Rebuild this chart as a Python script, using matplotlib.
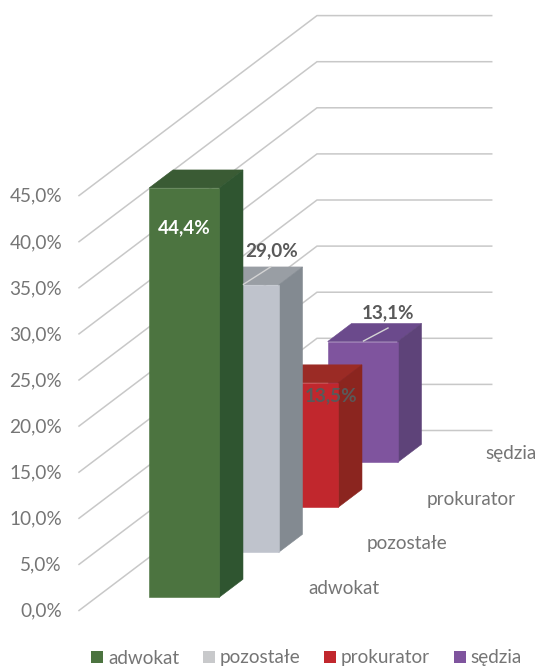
import matplotlib
matplotlib.use("Agg")
import matplotlib.pyplot as plt
from matplotlib.patches import Polygon, Patch

plt.rcParams['font.family'] = ['Lato', 'DejaVu Sans']

categories = ['adwokat', 'pozostałe', 'prokurator', 'sędzia']
values = [44.4, 29.0, 13.5, 13.1]
value_labels = ['44,4%', '29,0%', '13,5%', '13,1%']
ticks = [0, 5, 10, 15, 20, 25, 30, 35, 40, 45]
tick_labels = ['0,0%', '5,0%', '10,0%', '15,0%', '20,0%', '25,0%', '30,0%', '35,0%', '40,0%', '45,0%']
front_colors = ['#4C7440', '#BFC3CC', '#C1272D', '#7F549E']
top_colors = ['#3A5B34', '#999EA4', '#9B2B25', '#6B4A8C']
side_colors = ['#2F5530', '#838A91', '#8B251F', '#5E4379']
legend_colors = ['#4C7440', '#C8C9CB', '#C1272D', '#7F549E']

W, H = 539, 667
ZERO_PX = 610.5        # pixel row of value 0 on the front of the floor
PX_PER_UNIT = 9.22     # pixels per percentage point
FLOOR_LEFT = 79
FLOOR_WIDTH = 174.7
DEPTH_DX = 59.5        # oblique shift per category along the depth axis
DEPTH_DY = 45.0 / PX_PER_UNIT
BAR_WIDTH = 70
BAR_DEPTH = 0.4

fig = plt.figure(figsize=(W / 100, H / 100), dpi=100)
ax = fig.add_axes([0, 0, 1, 1])
ax.set_xlim(0, W)
ax.set_ylim((ZERO_PX - H) / PX_PER_UNIT, ZERO_PX / PX_PER_UNIT)
ax.axis('off')


def proj(x, depth, value):
    return x + depth * DEPTH_DX, value + depth * DEPTH_DY


n = len(categories)
GRID = '#C8C8C8'
for t, lab in zip(ticks, tick_labels):
    pts = [proj(FLOOR_LEFT, 0, t), proj(FLOOR_LEFT, n, t), proj(FLOOR_LEFT + FLOOR_WIDTH, n, t)]
    ax.plot([p[0] for p in pts], [p[1] for p in pts], color=GRID, lw=1.1, zorder=1,
            solid_joinstyle='miter')
    ax.text(62, t - 0.08, lab, ha='right', va='center', fontsize=13.7, color='#757575')

x0 = FLOOR_LEFT + (FLOOR_WIDTH - BAR_WIDTH) / 2 + 0.4
for i in range(n - 1, -1, -1):
    v = values[i]
    d0 = i + 0.293
    d1 = d0 + BAR_DEPTH
    z = 10 + (n - i)
    x1 = x0 + BAR_WIDTH
    top = [proj(x0, d0, v), proj(x1, d0, v), proj(x1, d1, v), proj(x0, d1, v)]
    side = [proj(x1, d0, 0), proj(x1, d1, 0), proj(x1, d1, v), proj(x1, d0, v)]
    front = [proj(x0, d0, 0), proj(x1, d0, 0), proj(x1, d0, v), proj(x0, d0, v)]
    ax.add_patch(Polygon(top, fc=top_colors[i], ec=top_colors[i], lw=0.4, zorder=z))
    ax.add_patch(Polygon(side, fc=side_colors[i], ec=side_colors[i], lw=0.4, zorder=z))
    ax.add_patch(Polygon(front, fc=front_colors[i], ec=front_colors[i], lw=0.4, zorder=z))

# category labels along the depth axis
cat_x = [343.5, 406.5, 471, 511]
cat_y_px = [589, 544, 499, 453]
for i, cat in enumerate(categories):
    ax.text(cat_x[i], (ZERO_PX - cat_y_px[i]) / PX_PER_UNIT, cat,
            ha='center', va='center', fontsize=13.6, color='#757575', zorder=30)

# data labels
lab_x = [184.5, 272, 331, 388]
lab_y_px = [228, 251, 396, 313]
lab_col = ['white', '#595959', '#595959', '#595959']
for i, lab in enumerate(value_labels):
    ax.text(lab_x[i], (ZERO_PX - lab_y_px[i]) / PX_PER_UNIT, lab, ha='center', va='center',
            fontsize=13.6, fontweight='bold', color=lab_col[i], zorder=30)

# leader lines
for xa, ya, xb, yb in [(243.5, 284.3, 271, 266.7), (363.5, 341, 388, 328)]:
    ax.plot([xa, xb], [(ZERO_PX - ya) / PX_PER_UNIT, (ZERO_PX - yb) / PX_PER_UNIT],
            color='#D4D4D4', lw=1, zorder=29)

handles = [Patch(fc=c, ec='none', label=l) for c, l in zip(legend_colors, categories)]
leg = fig.legend(handles=handles, ncols=4, loc='center', bbox_to_anchor=(306.5 / W, 1 - 658 / H),
                 frameon=False, fontsize=13.6, handlelength=0.64, handleheight=0.64,
                 handletextpad=0.26, columnspacing=1.24, labelcolor='#757575',
                 borderpad=0, borderaxespad=0)

fig.savefig('out.png', dpi=100)
